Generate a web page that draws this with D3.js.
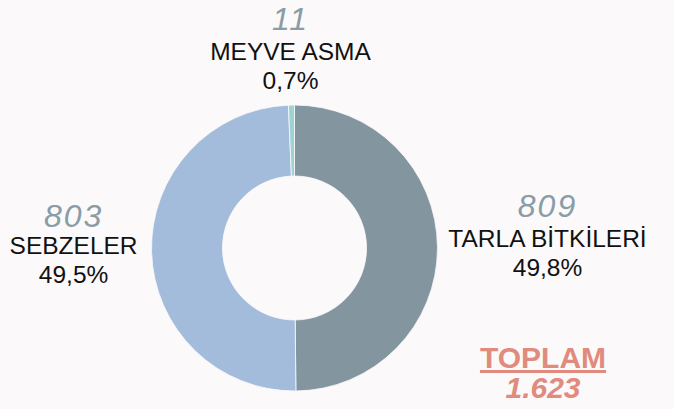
<!DOCTYPE html>
<html>
<head>
<meta charset="utf-8">
<script src="https://cdn.jsdelivr.net/npm/d3@7"></script>
<style>
  html, body { margin: 0; padding: 0; background: #fbf9fa; }
  svg { display: block; }
  .num { font-family: "Liberation Sans", Arial, sans-serif; font-style: italic; font-size: 32px; fill: #8a9ca6; letter-spacing: 2px; }
  .lbl { font-family: "Liberation Sans", Arial, sans-serif; font-size: 24.5px; fill: #111; }
  .total { font-family: "Liberation Sans", Arial, sans-serif; font-weight: bold; font-size: 30px; fill: #e08b7d; }
</style>
</head>
<body>
<svg></svg>
<script>
const categories = ["TARLA BİTKİLERİ", "SEBZELER", "MEYVE ASMA"]
const values = [809, 803, 11]
const shares = ["49,8%", "49,5%", "0,7%"]
const totalLabel = "TOPLAM"
const totalValue = "1.623"

const colors = ["#83959e", "#a3bcdb", "#9dd3d0"]

const width = 674, height = 409
const cx = 294.5, cy = 248
const outerR = 143, innerR = 72
// how far out each label block sits from the centre
const labelRadius = [253, 221, 188]

const svg = d3.select("svg")
  .attr("width", width)
  .attr("height", height)

const data = categories.map((c, i) => ({name: c, value: values[i], share: shares[i]}))

const pie = d3.pie()
  .value(d => d.value)
  .sort(null)

const arc = d3.arc()
  .innerRadius(innerR)
  .outerRadius(outerR)

const arcs = pie(data)

const g = svg.append("g")
  .attr("transform", `translate(${cx},${cy})`)

g.selectAll("path")
  .data(arcs)
  .join("path")
  .attr("d", arc)
  .attr("fill", (d, i) => colors[i])
  .attr("stroke", "#fbf9fa")
  .attr("stroke-width", 0.8)

const labels = g.selectAll("g.label")
  .data(arcs)
  .join("g")
  .classed("label", true)
  .attr("transform", (d, i) => {
    const a = (d.startAngle + d.endAngle) / 2
    return `translate(${labelRadius[i] * Math.sin(a)},${-labelRadius[i] * Math.cos(a)})`
  })

labels.append("text")
  .attr("class", "num")
  .attr("text-anchor", "middle")
  .attr("y", (d, i) => i == 1 ? -27 : -30)
  .text(d => d.data.value)

labels.append("text")
  .attr("class", "lbl")
  .attr("text-anchor", "middle")
  .text(d => d.data.name)

labels.append("text")
  .attr("class", "lbl")
  .attr("text-anchor", "middle")
  .attr("y", 29)
  .text(d => d.data.share)

const tot = svg.append("g")
  .attr("transform", "translate(543,368)")

tot.append("text")
  .attr("class", "total")
  .attr("text-anchor", "middle")
  .attr("text-decoration", "underline")
  .text(totalLabel)

tot.append("text")
  .attr("class", "total")
  .attr("text-anchor", "middle")
  .attr("font-style", "italic")
  .attr("y", 30)
  .text(totalValue)
</script>
</body>
</html>
